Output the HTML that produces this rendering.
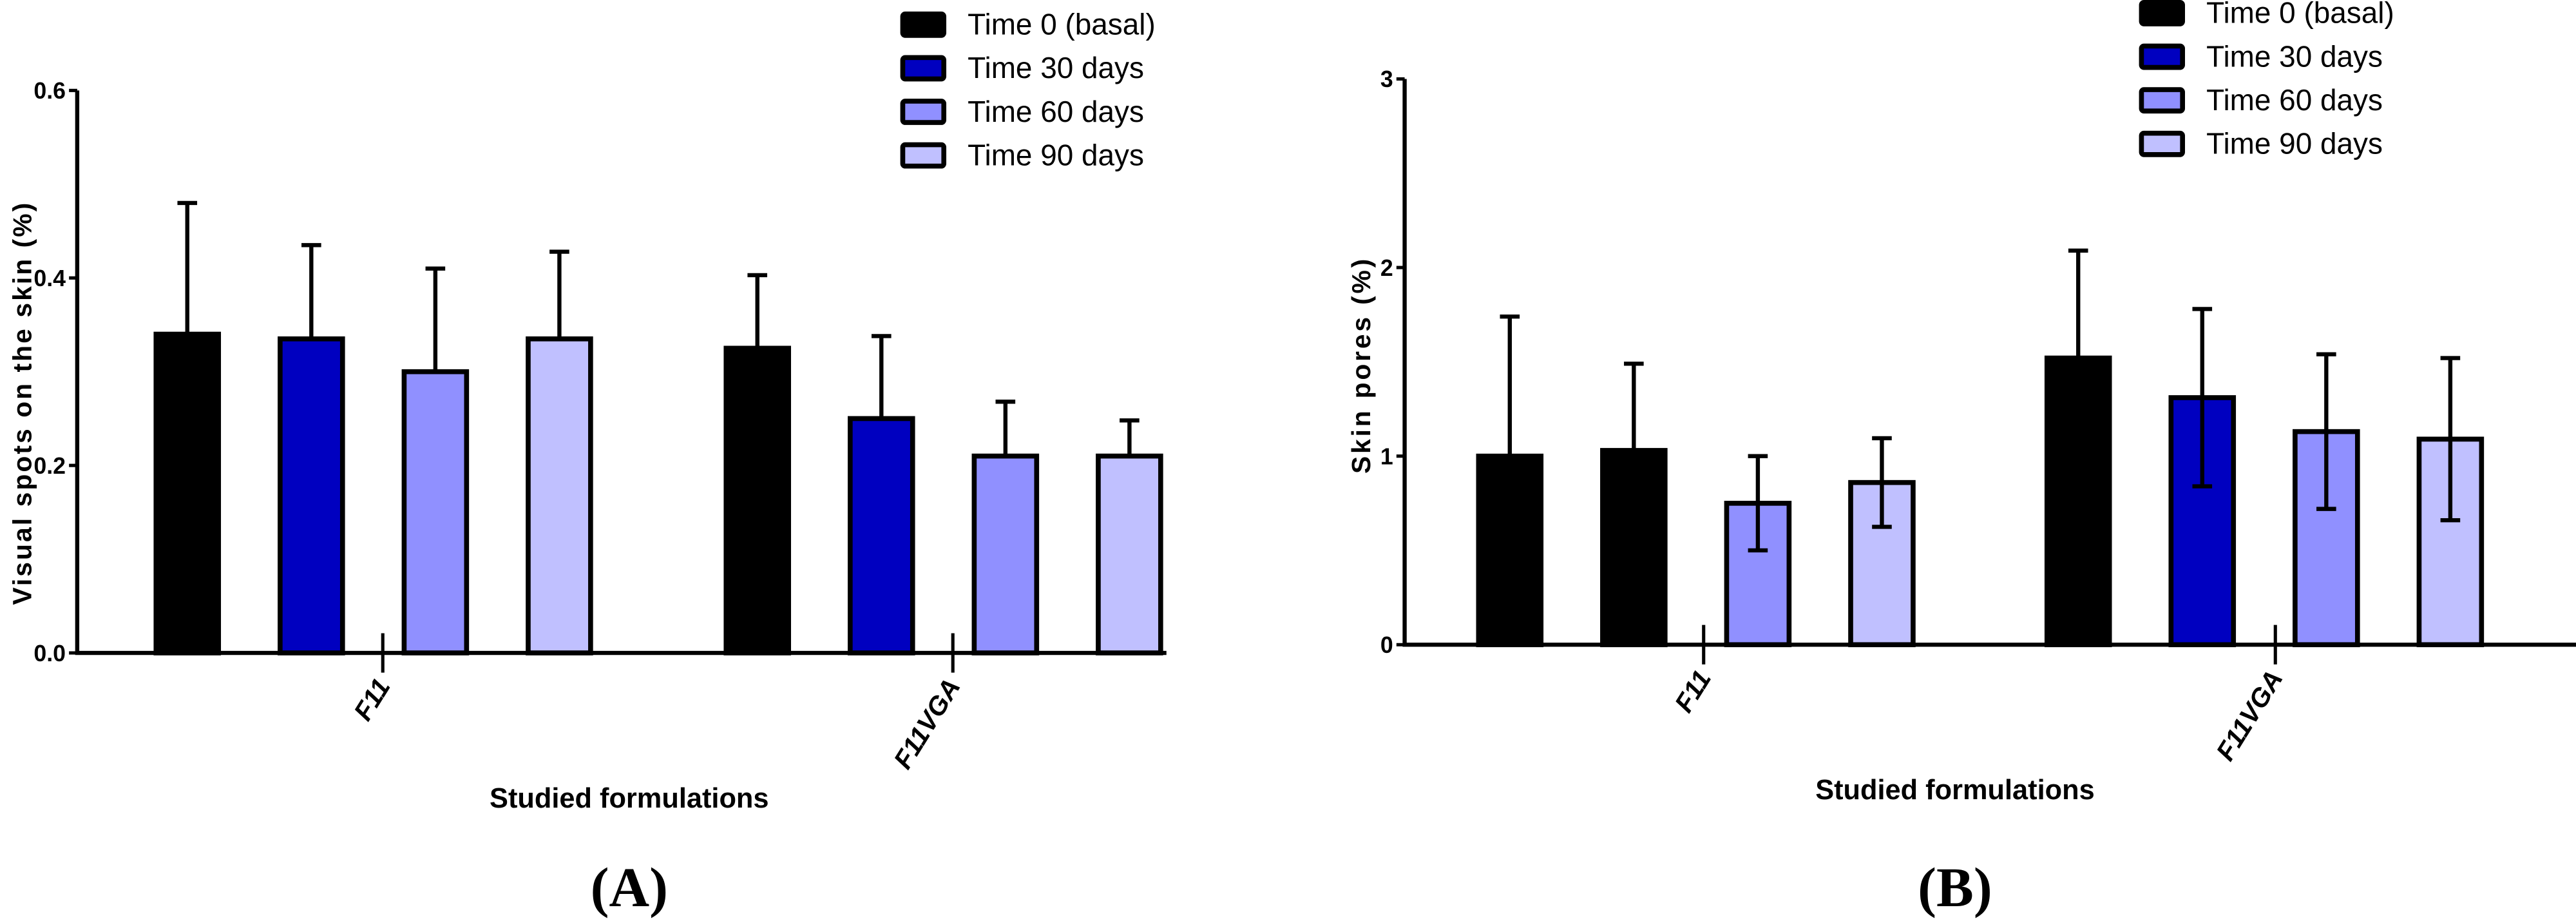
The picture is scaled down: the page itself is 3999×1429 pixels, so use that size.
<!DOCTYPE html>
<html><head><meta charset="utf-8"><style>
html,body{margin:0;padding:0;background:#fff;}
svg{display:block;}
</style></head><body>
<svg id="fig" width="3999" height="1429" viewBox="0 0 1568 560" preserveAspectRatio="none" xmlns="http://www.w3.org/2000/svg" font-family="Liberation Sans, sans-serif"></svg>
<script>
const NS="http://www.w3.org/2000/svg";
const seriesNames=["Time 0 (basal)","Time 30 days","Time 60 days","Time 90 days"];
const categories=["F11","F11VGA"];
const colorsA=[["#000","#0000c0","#9090ff","#c0c0ff"],["#000","#0000c0","#9090ff","#c0c0ff"]];
const colorsB=[["#000","#000","#9090ff","#c0c0ff"],["#000","#0000c0","#9090ff","#c0c0ff"]];
const legendColors=["#000","#0000c0","#9090ff","#c0c0ff"];
// Chart A
const valuesA=[[0.34,0.335,0.30,0.335],[0.325,0.25,0.21,0.21]];
const errA=[[0.14,0.10,0.11,0.093],[0.078,0.088,0.058,0.038]];
const ticksA=[0,0.2,0.4,0.6];
const tickLabelsA=["0.0","0.2","0.4","0.6"];
// Chart B
const valuesB=[[1.0,1.03,0.75,0.86],[1.52,1.31,1.13,1.09]];
const errB=[[0.74,0.46,0.25,0.235],[0.57,0.47,0.41,0.43]];
const ticksB=[0,1,2,3];
const tickLabelsB=["0","1","2","3"];
const downErrB=[[false,false,true,true],[false,true,true,true]];
const downErrA=[[false,false,false,false],[false,false,false,false]];

const svg=document.getElementById('fig');
function el(tag,attrs,parent){const e=document.createElementNS(NS,tag);for(const k in attrs)e.setAttribute(k,attrs[k]);(parent||svg).appendChild(e);return e;}

function chart(cfg){
  const g=el('g',{});
  
  
  const y=v=>cfg.y0-(v/cfg.ymax)*(cfg.y0-cfg.ytop);
  for(let c=0;c<2;c++){
    for(let s=0;s<4;s++){
      const x=cfg.groupX[c]+s*cfg.step;
      const v=cfg.values[c][s], e=cfg.err[c][s];
      const r=el('rect',{x:x,y:y(v),width:cfg.bw,height:cfg.y0-y(v),fill:cfg.colors[c][s],stroke:'#000','stroke-width':3},g);
      
      
      const cx=x+cfg.bw/2;
      const lo=cfg.down[c][s]?y(v-e):y(v);
      const eb=el('path',{d:`M${cx},${lo}V${y(v+e)}M${cx-6},${y(v+e)}H${cx+6}`+(cfg.down[c][s]?`M${cx-6},${lo}H${cx+6}`:''),stroke:'#000','stroke-width':2.5,fill:'none'},g);
      
      
    }
  }
  const ax=el('path',{d:`M${cfg.ax},${cfg.ytop}V${cfg.y0}H${cfg.xend}`,stroke:'#000','stroke-width':2.5,fill:'none'},g);
  
  
  cfg.ticks.forEach((t,i)=>{
    el('path',{d:`M${cfg.ax-5},${y(t)}H${cfg.ax}`,stroke:'#000','stroke-width':2},g);
    const tl=el('text',{x:cfg.ax-7,y:y(t)+5,'text-anchor':'end','font-size':14,'font-weight':'bold'},g);
    tl.textContent=cfg.tickLabels[i];
    
    
  });
  categories.forEach((c,i)=>{
    const tx=cfg.catX[i];
    el('path',{d:`M${tx},${cfg.y0-12}V${cfg.y0+12}`,stroke:'#000','stroke-width':2},g);
    const t=el('text',{transform:`translate(${tx+5},${cfg.y0+20}) rotate(-58)`,'text-anchor':'end','font-size':16,'font-weight':'bold','font-style':'italic'},g);
    t.textContent=c;
    
    
  });
  const yt=el('text',{transform:`translate(${cfg.ylabX},${cfg.ylabY}) rotate(-90)`,'text-anchor':'middle','font-size':16,'font-weight':'bold','letter-spacing':cfg.ls},g);
  yt.textContent=cfg.ylabel;
  
  
  const xt=el('text',{x:cfg.xlabX,y:cfg.y0+94,'text-anchor':'middle','font-size':17,'font-weight':'bold'},g);
  xt.textContent='Studied formulations';
  
  
  const pl=el('text',{x:cfg.xlabX,y:551,'text-anchor':'middle','font-size':34,'font-weight':'bold','font-family':'Liberation Serif, serif'},g);
  pl.textContent=cfg.panel;
  
  
  seriesNames.forEach((n,i)=>{
    const ly=cfg.legY+i*26.5;
    const r=el('rect',{x:cfg.legX+1.5,y:ly+1.5,width:25,height:13,fill:legendColors[i],stroke:'#000','stroke-width':3,rx:1.5},g);
    
    
    const t=el('text',{x:cfg.legX+41,y:ly+14,'font-size':18},g);
    t.textContent=n;
    
    
  });
}
chart({name:'chart-a',values:valuesA,err:errA,down:downErrA,colors:colorsA,ticks:ticksA,tickLabels:tickLabelsA,ymax:0.6,
  y0:397,ytop:55,ax:47,xend:710,groupX:[95,442],step:75.5,bw:38,catX:[233,580],
  ylabel:'Visual spots on the skin  (%)',ylabX:19,ylabY:245,ls:1.2,xlabX:383,panel:'(A)',legX:548,legY:7});
chart({name:'chart-b',values:valuesB,err:errB,down:downErrB,colors:colorsB,ticks:ticksB,tickLabels:tickLabelsB,ymax:3,
  y0:392,ytop:48,ax:855,xend:1568,groupX:[900,1246],step:75.5,bw:38,catX:[1037,1385],
  ylabel:'Skin pores (%)',ylabX:834,ylabY:222,ls:1.5,xlabX:1190,panel:'(B)',legX:1302,legY:0});
</script>
</body></html>
